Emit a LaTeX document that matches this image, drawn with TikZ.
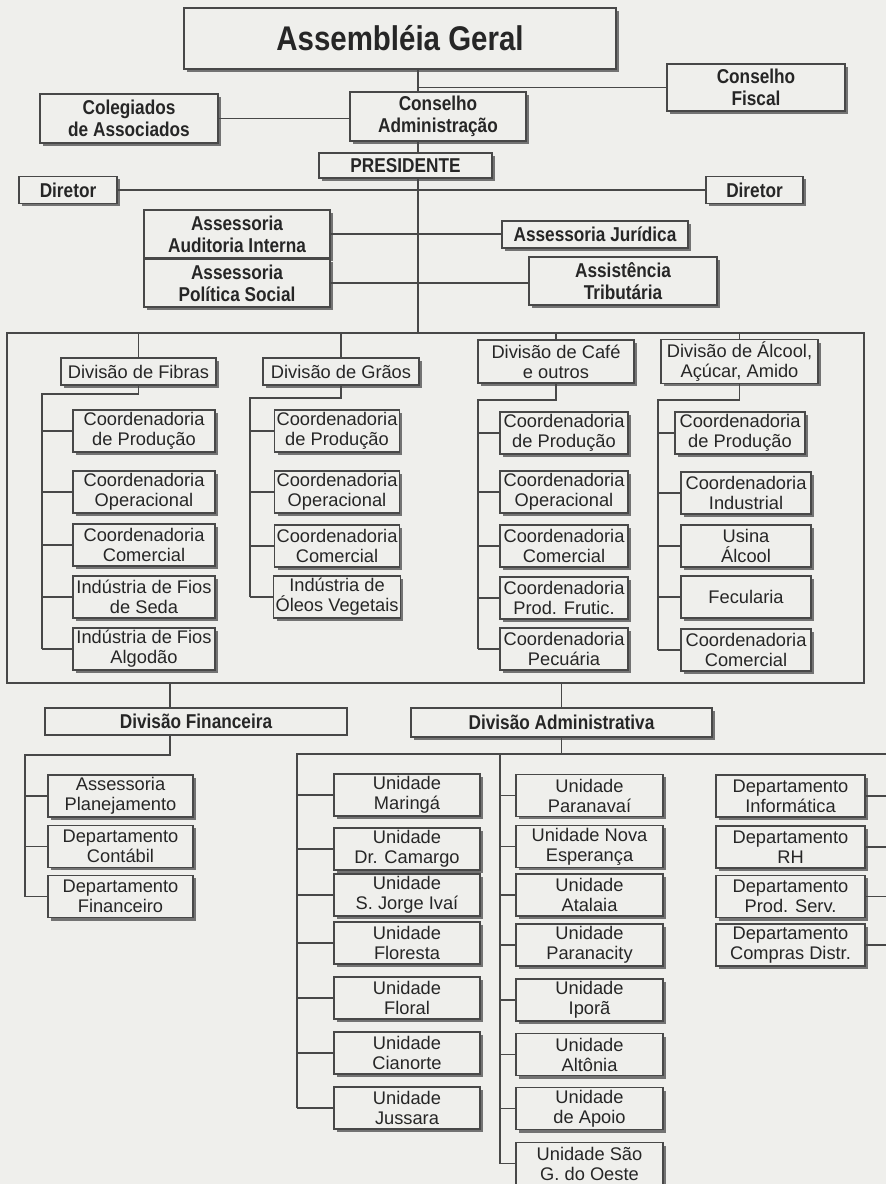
\documentclass[tikz,border=0pt]{standalone}
\usepackage{fontspec}
\setmainfont{Liberation Sans}
\newfontfamily\hdfont[FakeStretch=0.86]{Liberation Sans}
\usetikzlibrary{shadows}
\definecolor{paper}{RGB}{239,239,236}
\definecolor{ink}{RGB}{72,72,72}
\definecolor{shade}{RGB}{115,115,115}
\definecolor{txt}{RGB}{38,38,38}
\tikzset{
  wd/.style={minimum width=#1*0.02cm},
  ht/.style={minimum height=#1*0.02cm},
  cell/.style={draw=ink, fill=paper, line width=0.6pt, text=txt, align=center, inner sep=1pt},
  box/.style={cell, drop shadow={shadow xshift=1.7pt, shadow yshift=-1.7pt, fill=shade, opacity=1}},
  head/.style={box, font=\hdfont\bfseries\fontsize{11.4}{12.6}\selectfont},
  sub/.style={box, ht=42, font=\fontsize{10.4}{11.4}\selectfont},
  link/.style={draw=ink, line width=0.6pt}
}
\begin{document}
\begin{tikzpicture}[x=0.02cm, y=-0.02cm]
    \fill[paper] (0,0) rectangle (886,1184);
    \useasboundingbox (0,0) rectangle (886,1184);

    % direction
    \node[box, wd=432, ht=61, font=\hdfont\bfseries\fontsize{19.5}{22}\selectfont] (ag) at (400,38.5) {Assembléia Geral};
    \node[head, wd=178, ht=47] (cf) at (756,87.5) {Conselho\\Fiscal};
    \node[head, wd=178, ht=49] (col) at (129,118.5) {Colegiados\\de Associados};
    \node[head, wd=176, ht=49] (ca) at (438,116.5) {Conselho\\Administração};
    \node[head, wd=173, ht=25] (pres) at (405.5,165.5) {PRESIDENTE};
    \node[head, wd=98, ht=27] (dirL) at (68,190) {Diretor};
    \node[head, wd=97, ht=27] (dirR) at (754.5,190) {Diretor};
    \node[head, wd=186, ht=48] (aai) at (237,234) {Assessoria\\Auditoria Interna};
    \node[head, wd=186, ht=48] (aps) at (237,283) {Assessoria\\Política Social};
    \node[head, wd=186, ht=27] (jur) at (595,234.5) {Assessoria Jurídica};
    \node[head, wd=188, ht=48] (trib) at (623,281) {Assistência\\Tributária};

    \coordinate (top) at (418,333);
    \draw[link] (ag.south -| top) -- (ca.north -| top);
    \draw[link] (ca.south -| top) -- (pres.north -| top);
    \draw[link] (pres.south -| top) -- (top);
    \draw[link] (cf.west) -- (cf.west -| top);
    \draw[link] (col.east) -- (col.east -| ca.west);
    \draw[link] (dirL.east) -- (dirR.west);
    \draw[link] (aai.east) -- (aai.east -| jur.west);
    \draw[link] (aps.east) -- (aps.east -| trib.west);

    % production divisions
    \draw[link] (7,333) rectangle (864,683);
    \node[box, wd=155, ht=27, font=\fontsize{10.4}{11.4}\selectfont] (fib) at (138.5,371.5) {Divisão de Fibras};
    \node[box, wd=156, ht=27, font=\fontsize{10.4}{11.4}\selectfont] (gra) at (341,371.5) {Divisão de Grãos};
    \node[box, wd=156, ht=43, font=\fontsize{10.4}{11.4}\selectfont] (caf) at (556,361.5) {Divisão de Café\\e outros};
    \node[box, wd=157, ht=43, font=\fontsize{10.4}{11.4}\selectfont] (alc) at (739.5,361.5) {Divisão de Álcool,\\Açúcar, Amido};
    \foreach \d in {fib,gra,caf,alc}
        \draw[link] (\d.north) -- (\d.north |- top);

    \foreach \n/\y/\t in {A/431/{Coordenadoria\\de Produção}, B/492/{Coordenadoria\\Operacional}, C/545/{Coordenadoria\\Comercial}, D/597/{Indústria de Fios\\de Seda}, E/649/{Indústria de Fios\\Algodão}}
        \node[sub, wd=142] (fib\n) at (144,\y) {\t};
    \foreach \n/\y/\t in {A/431/{Coordenadoria\\de Produção}, B/492/{Coordenadoria\\Operacional}, C/546/{Coordenadoria\\Comercial}, D/597/{Indústria de\\Óleos Vegetais}}
        \node[sub, wd=124] (gra\n) at (337,\y) {\t};
    \foreach \n/\y/\t in {A/433/{Coordenadoria\\de Produção}, B/492/{Coordenadoria\\Operacional}, C/546/{Coordenadoria\\Comercial}, D/598/{Coordenadoria\\Prod. Frutic.}, E/649/{Coordenadoria\\Pecuária}}
        \node[sub, wd=128] (caf\n) at (564,\y) {\t};
    \foreach \n/\x/\y/\t in {A/740/433/{Coordenadoria\\de Produção}, B/746/493/{Coordenadoria\\Industrial}, C/746/546/{Usina\\Álcool}, D/746/597/{Fecularia}, E/746/650/{Coordenadoria\\Comercial}}
        \node[sub, wd=130] (alc\n) at (\x,\y) {\t};

    \coordinate (fibS) at (42,394);
    \coordinate (graS) at (250,398);
    \coordinate (cafS) at (478,400);
    \coordinate (alcS) at (658,400);
    \draw[link] (fib.south) |- (fibS) -- (fibS |- fibE.west);
    \draw[link] (gra.south) |- (graS) -- (graS |- graD.west);
    \draw[link] (caf.south) |- (cafS) -- (cafS |- cafE.west);
    \draw[link] (alc.south) |- (alcS) -- (alcS |- alcE.west);
    \foreach \n in {A,...,E}
        \draw[link] (fibS |- fib\n.west) -- (fib\n.west);
    \foreach \n in {A,...,D}
        \draw[link] (graS |- gra\n.west) -- (gra\n.west);
    \foreach \n in {A,...,E} {
        \draw[link] (cafS |- caf\n.west) -- (caf\n.west);
        \draw[link] (alcS |- alc\n.west) -- (alc\n.west);
    }

    % finance
    \coordinate (finT) at (170,683);
    \coordinate (finS) at (25,755);
    \node[cell, wd=302, ht=27, font=\hdfont\bfseries\fontsize{11.4}{12.6}\selectfont] (dfin) at (196,721.5) {Divisão Financeira};
    \foreach \n/\y/\t in {A/796/{Assessoria\\Planejamento}, B/846.5/{Departamento\\Contábil}, C/896.5/{Departamento\\Financeiro}}
        \node[sub, wd=145] (fin\n) at (120.5,\y) {\t};
    \draw[link] (finT) -- (finT |- dfin.north);
    \draw[link] (finT |- dfin.south) |- (finS) -- (finS |- finC.west);
    \foreach \n in {A,...,C}
        \draw[link] (finS |- fin\n.west) -- (fin\n.west);

    % administration
    \node[head, wd=301, ht=29] (dadm) at (561.5,722.5) {Divisão Administrativa};
    \foreach \n/\y/\t in {A/795/{Unidade\\Maringá}, B/849/{Unidade\\Dr. Camargo}, C/895/{Unidade\\S. Jorge Ivaí}, D/943/{Unidade\\Floresta}, E/998/{Unidade\\Floral}, F/1053/{Unidade\\Cianorte}, G/1108/{Unidade\\Jussara}}
        \node[sub, wd=146] (uc\n) at (407,\y) {\t};
    \foreach \n/\y/\t in {A/795.5/{Unidade\\Paranavaí}, B/846.5/{Unidade Nova\\Esperança}, C/895/{Unidade\\Atalaia}, D/945/{Unidade\\Paranacity}, E/1000/{Unidade\\Iporã}, F/1054.5/{Unidade\\Altônia}, G/1108.5/{Unidade\\de Apoio}, H/1163.5/{Unidade São\\G. do Oeste}}
        \node[sub, wd=147] (un\n) at (589.5,\y) {\t};
    \foreach \n/\y/\t in {A/796/{Departamento\\Informática}, B/847/{Departamento\\RH}, C/896.5/{Departamento\\Prod. Serv.}, D/945/{Departamento\\Compras Distr.}}
        \node[sub, wd=149] (dep\n) at (790.5,\y) {\t};

    \coordinate (admL) at (297,754);
    \coordinate (admM) at (500,754);
    \coordinate (admR) at (886,754);
    \draw[link] (dadm.north) -- (dadm.north |- finT);
    \draw[link] (dadm.south) -- (dadm.south |- admL);
    \draw[link] (admL |- ucG.west) -- (admL) -- (admR);
    \draw[link] (admM) -- (admM |- unH.west);
    \foreach \n in {A,...,G}
        \draw[link] (admL |- uc\n.west) -- (uc\n.west);
    \foreach \n in {A,...,H}
        \draw[link] (admM |- un\n.west) -- (un\n.west);
    \foreach \n in {A,...,D}
        \draw[link] (dep\n.east) -- (dep\n.east -| admR);
\end{tikzpicture}
\end{document}
